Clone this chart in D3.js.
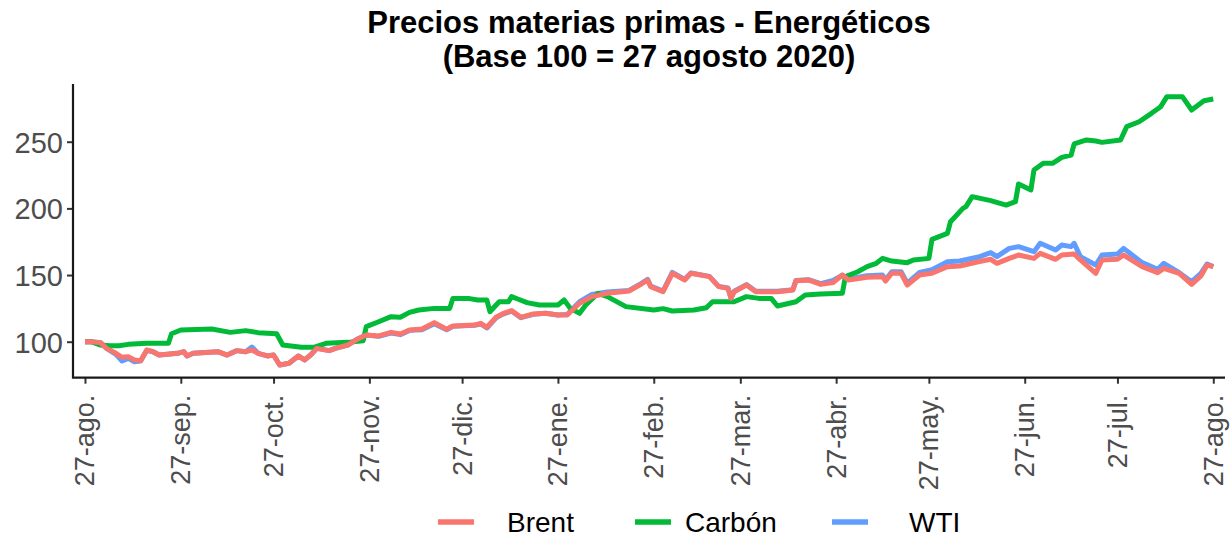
<!DOCTYPE html>
<html><head><meta charset="utf-8">
<script src="https://cdn.jsdelivr.net/npm/d3@7"></script>
<style>body{margin:0;background:#fff}svg{display:block}text{font-family:"Liberation Sans",Arial,sans-serif}</style>
</head><body><svg id="c" width="1232" height="537"></svg>
<script>
// Days since 27 Aug 2020 and index values (base 100)
const brentDays = [0,2,5,7,10,12,14,16,18,20,22,24,30,32,33,35,43,46,49,52,54,56,59,61,63,66,69,71,73,75,79,81,85,88,91,95,99,102,105,109,113,117,119,126,128,130,133,135,138,141,145,149,153,156,160,164,169,176,180,182,183,187,190,194,196,202,205,208,209,210,214,217,224,229,230,234,238,242,245,247,253,258,259,261,264,266,270,274,279,283,289,293,295,299,302,307,309,314,316,320,322,327,329,334,336,342,347,349,354,358,361,363,365];
const brentValues = [100,100,99.3,95,91.3,88.3,88.8,86.3,85.8,93.8,92.5,90,91.3,92.5,89.3,91.3,92.5,90,93.3,92.5,93.8,91.3,89.3,90,82.5,83.8,89.3,86.3,90,95,93.3,95,97.5,101.8,105,104.3,107,105.8,108.8,109.5,114.3,109.3,111.8,112.5,113.8,110.8,118.3,120.8,123.3,118.3,120.8,121.3,120,120,128.8,133.8,136.3,138,143.3,146.3,141.3,137.5,151.3,146.3,151.3,148.8,141.3,140,132.5,137.5,142.5,137.5,137.5,138.8,145.8,146.3,143,144.3,150,146.3,148.3,148.8,145.5,151.3,151.3,142.5,150,151.3,156.3,156.8,160,161.8,158.8,162.5,165,162.5,166.3,161.8,165,165.8,161.3,151.3,161.3,161.8,165,156.3,151.8,155,151.3,143,149.3,157.5,156.3];

const carbonDays = [0,2,5,8,11,14,20,27,28,31,41,47,52,56,62,64,70,74,78,85,90,91,95,99,102,105,108,113,118,119,124,127,130,131,134,137,138,140,143,147,153,155,157,160,162,166,169,175,184,187,190,197,201,203,210,214,218,222,224,230,233,238,245,246,250,253,256,258,261,266,268,273,274,279,280,284,285,287,293,298,301,302,306,307,310,313,316,319,320,324,327,329,335,337,341,345,348,350,355,358,362,365];
const carbonValues = [100,100,97.5,97,97,98,98.8,98.8,106,108.8,109.5,107,108.3,106.8,106,97.5,95.8,95.8,98.8,99.5,100.7,111.3,115,118.8,118.3,122,123.8,125,125,132.5,132.5,131.3,131.3,122.5,130,130,133.8,132,129.3,127.5,127.5,131.3,125,121.3,127.5,136.3,133.8,126.3,123.8,124.8,123,123.8,125.5,130,130,133.8,132.5,132.5,126.8,130,135,135.8,136.3,148.8,152.5,156.3,158.8,162.5,160.5,159.3,161.3,162.5,176.8,181.3,190,200,201.3,208.8,205.8,202.5,205,218.3,213.8,228.8,233.8,233.8,238.3,240,248.3,251.3,250.5,249.5,251.3,261.3,265,271.3,276.3,283.8,283.8,273.8,280.8,282];

const wtiDays = [0,2,5,7,10,12,14,16,18,20,22,24,30,32,33,35,43,46,49,52,54,56,59,61,63,66,69,71,73,75,79,81,85,88,91,95,99,102,105,109,113,117,119,126,128,130,133,135,138,141,145,149,153,156,160,164,169,176,180,182,183,187,190,194,196,202,205,208,209,210,214,217,224,229,230,234,238,242,245,247,253,258,259,261,264,266,270,274,279,283,289,293,295,299,302,307,309,314,316,319,320,322,327,329,334,336,342,347,349,354,358,361,363,365];
const wtiValues = [100,100,99.3,95,90.5,85.5,87.5,85,85.5,93.5,92.5,90,91.3,92.5,89.3,91.3,92.5,90,93.3,92.5,96,91.3,89.3,90,82.5,83.8,89.3,86.3,90,95,93.3,95,97.5,101.8,105,104,106.5,105.3,108.5,109,113.5,109,111.5,112.3,113.3,110.3,118,120.5,123,118,120.5,121.3,120,120.5,130,135.5,137.3,138.5,143.8,146.8,141.8,138,152,146.8,151.5,149,141.5,140.3,132.8,137.8,142.8,137.8,137.8,139,146,146.5,143.5,146,150,147,149.5,150,146.5,152.5,152.5,144,152,154,160,160.5,163.5,166.8,163.8,170,171.3,167.5,173.8,168.8,172.5,171.3,173.8,163.8,157.5,165,165.8,170,159.3,154.3,158.8,151.8,145,151.3,158.3,156.3];

const seriesNames = ["Brent","Carbón","WTI"];
const seriesColors = ["#F8766D","#00BA38","#619CFF"];
const tickMonths = ["ago.","sep.","oct.","nov.","dic.","ene.","feb.","mar.","abr.","may.","jun.","jul.","ago."];
const yTicks = [100,150,200,250];
const titleLines = ["Precios materias primas - Energéticos","(Base 100 = 27 agosto 2020)"];

const base = new Date(2020,7,27);
const toDate = d => d3.timeDay.offset(base, d);
const mk = (days, vals) => days.map((d,i)=>({date:toDate(d), v:vals[i]}));
const series = [mk(brentDays,brentValues), mk(carbonDays,carbonValues), mk(wtiDays,wtiValues)];

const svg = d3.select("#c");
const L=73,R=1225,T=84,B=377.7;
const x = d3.scaleTime()
  .domain([d3.timeHour.offset(base,-93), d3.timeHour.offset(new Date(2021,7,27),91)])
  .range([L,R]);
const y = d3.scaleLinear().domain([73,293.3]).range([B,T]);

// title
svg.selectAll("text.title").data(titleLines).join("text")
  .attr("x",649).attr("y",(d,i)=>33+i*34).attr("text-anchor","middle")
  .attr("font-weight","bold").attr("font-size",31).attr("fill","#000").text(d=>d);

// lines
const line = d3.line().x(d=>x(d.date)).y(d=>y(d.v));
const order=[2,1,0];
order.forEach(i=>{
  svg.append("path").datum(series[i]).attr("d",line).attr("fill","none")
    .attr("stroke",seriesColors[i]).attr("stroke-width",5)
    .attr("stroke-linejoin","round");
});

// axes
const tickDates = tickMonths.map((m,i)=>d3.timeMonth.offset(base,i));
const xAxis = d3.axisBottom(x).tickValues(tickDates).tickSize(6).tickPadding(0)
  .tickFormat((d,i)=>"27-"+tickMonths[i]);
const gx = svg.append("g").attr("transform",`translate(0,${B})`).call(xAxis);
gx.select(".domain").remove();
gx.selectAll(".tick line").attr("stroke","#333").attr("stroke-width",2);
gx.selectAll(".tick text").attr("font-size",27).attr("fill","#4d4d4d")
  .attr("font-family","Liberation Sans, Arial, sans-serif")
  .attr("text-anchor","end").attr("transform","rotate(-90)")
  .attr("x",-17).attr("y",0).attr("dy","0.33em");

const yAxis = d3.axisLeft(y).tickValues(yTicks).tickSize(6).tickPadding(4);
const gy = svg.append("g").attr("transform",`translate(${L},0)`).call(yAxis);
gy.select(".domain").remove();
gy.selectAll(".tick line").attr("stroke","#333").attr("stroke-width",2);
gy.selectAll(".tick text").attr("font-size",29).attr("fill","#4d4d4d")
  .attr("font-family","Liberation Sans, Arial, sans-serif").attr("dy","0.36em");

svg.append("path").attr("d",`M${L},${T}V${B}H${R}`).attr("fill","none")
  .attr("stroke","#1a1a1a").attr("stroke-width",2.2);

// legend
const legX = [438,635,832], legTX=[507,685,909];
seriesNames.forEach((n,i)=>{
  svg.append("line").attr("x1",legX[i]).attr("x2",legX[i]+36).attr("y1",522).attr("y2",522)
    .attr("stroke",seriesColors[i]).attr("stroke-width",5.5);
  svg.append("text").attr("x",legTX[i]).attr("y",532).attr("font-size",28).attr("fill","#000").text(n);
});
</script></body></html>
